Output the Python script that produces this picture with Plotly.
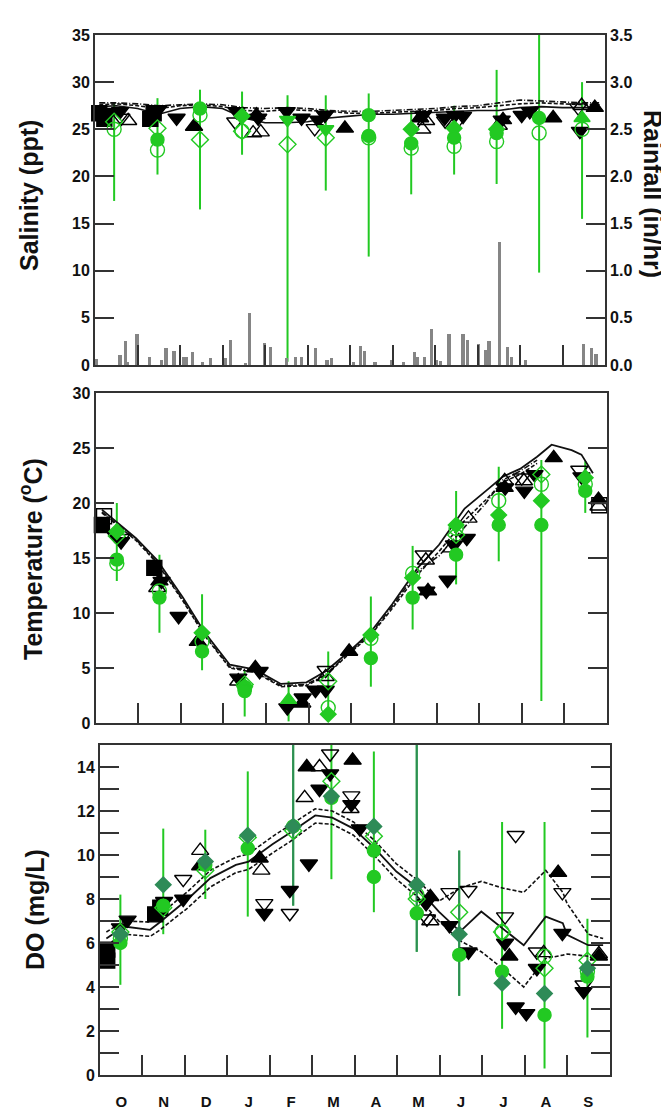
import plotly.graph_objects as go

W, H = 669, 1110

# ---------------- data ----------------
months = ['O', 'N', 'D', 'J', 'F', 'M', 'A', 'M', 'J', 'J', 'A', 'S']
month_centers = [0.5 + i for i in range(12)]
month_bounds = list(range(1, 12))

# Rainfall (in/hr), x in months since 1 Oct
rain_x = [0.03, 0.59, 0.71, 0.76, 0.99, 1.28, 1.56, 1.67, 1.86, 2.08, 2.15, 2.29, 2.52,
          2.71, 3.07, 3.18, 3.54, 3.63, 3.98, 4.13, 4.50, 4.71, 4.85, 5.18, 5.46, 5.56,
          6.08, 6.24, 6.34, 6.59, 6.97, 7.25, 7.51, 7.58, 7.75, 7.91, 8.03, 8.12, 8.33,
          8.66, 8.76, 9.02, 9.18, 9.27, 9.51, 9.70, 9.80, 10.12, 11.50, 11.69, 11.79]
rain_val = [0.06, 0.11, 0.25, 0.03, 0.33, 0.09, 0.05, 0.18, 0.15, 0.08, 0.09, 0.14, 0.03,
            0.07, 0.07, 0.26, 0.02, 0.55, 0.23, 0.19, 0.07, 0.085, 0.085, 0.18, 0.05, 0.07,
            0.03, 0.20, 0.15, 0.03, 0.05, 0.03, 0.14, 0.085, 0.085, 0.38, 0.05, 0.04, 0.33,
            0.33, 0.27, 0.22, 0.16, 0.25, 1.30, 0.19, 0.085, 0.05, 0.22, 0.18, 0.12]

# Salinity (ppt)
sal_lx = [0.1, 0.5, 1.0, 1.5, 2.0, 2.5, 3.0, 3.5, 4.0, 4.5, 5.0, 5.5, 6.0, 6.5, 7.0, 7.5,
          8.0, 8.5, 9.0, 9.5, 10.0, 10.5, 11.0, 11.5, 11.9]
sal_solid = [27.4, 27.5, 27.2, 26.6, 27.2, 27.4, 27.2, 26.2, 25.7, 25.7, 25.8, 26.2, 26.4,
             26.6, 26.6, 26.7, 26.8, 26.9, 27.0, 27.0, 27.3, 27.4, 27.3, 27.3, 27.3]
sal_dash = [27.6, 27.7, 27.5, 27.2, 27.5, 27.6, 27.4, 27.0, 26.9, 27.1, 27.0, 26.9, 26.7,
            26.7, 26.8, 26.9, 27.0, 27.2, 27.3, 27.5, 27.7, 27.8, 27.7, 27.6, 27.6]
sal_dashdot = [27.8, 27.8, 27.7, 27.5, 27.6, 27.7, 27.6, 27.3, 27.2, 27.3, 27.2, 27.0, 26.9,
               26.9, 27.0, 27.1, 27.2, 27.4, 27.5, 27.8, 28.1, 28.0, 27.9, 27.8, 27.8]
sal_sq_x = [0.1, 0.22, 1.3, 1.38]
sal_sq_y = [26.7, 26.1, 26.1, 26.7]
sal_fd_x = [0.35, 0.59, 1.49, 1.92, 3.33, 3.84, 4.51, 4.86, 5.25, 5.41, 7.72, 8.23, 8.47,
            8.66, 9.57, 10.04, 10.23, 11.41]
sal_fd_y = [26.8, 26.9, 27.1, 26.2, 26.9, 26.2, 26.9, 26.2, 26.0, 26.5, 26.5, 26.2, 26.5,
            26.4, 26.0, 26.5, 26.9, 24.8]
sal_fu_x = [2.33, 3.80, 5.88, 7.65, 9.60, 10.78, 11.76]
sal_fu_y = [25.3, 26.5, 25.1, 26.2, 26.0, 26.2, 27.3]
sal_ou_x = [0.78, 3.72, 3.90, 7.70, 7.79, 9.50, 11.45]
sal_ou_y = [25.9, 24.6, 24.7, 25.0, 25.9, 25.4, 27.5]
sal_od_x = [0.62, 3.30, 5.17, 8.24, 8.55, 11.37]
sal_od_y = [26.2, 25.8, 25.1, 25.9, 26.0, 27.3]
sal_gx = [0.45, 1.47, 2.47, 3.46, 4.53, 5.43, 6.44, 7.44, 8.45, 9.45, 10.45, 11.46]
sal_hi = [27.8, 28.3, 29.2, 29.0, 28.6, 28.6, 28.8, 26.9, 27.5, 31.3, 35.0, 30.0]
sal_lo = [17.4, 20.2, 16.5, 22.3, 0.35, 18.5, 11.5, 18.1, 20.2, 19.2, 9.8, 15.5]
sal_gc_x = [1.47, 2.47, 6.44, 6.44, 7.44, 8.45, 9.45, 10.45]
sal_gc_y = [23.9, 27.2, 26.5, 24.3, 23.5, 24.1, 24.6, 26.2]
sal_go_x = [0.45, 1.47, 2.47, 3.46, 6.44, 7.44, 8.45, 9.45, 10.45, 11.46]
sal_go_y = [25.0, 22.8, 26.5, 24.8, 24.1, 23.0, 23.2, 23.7, 24.6, 25.0]
sal_gdo_x = [0.45, 1.47, 2.47, 3.46, 4.53, 5.43]
sal_gdo_y = [25.8, 25.1, 23.9, 24.8, 23.4, 24.1]
sal_gd_x = [3.46, 7.44, 8.45, 9.45]
sal_gd_y = [26.4, 25.0, 25.1, 25.0]
sal_gtd_x = [4.53, 5.43]
sal_gtd_y = [26.0, 25.0]
sal_gtu_x = [11.46]
sal_gtu_y = [26.2]

# Temperature (oC)
temp_lx = [0.15, 0.95, 1.45, 2.05, 2.55, 3.15, 3.75, 4.35, 4.95, 5.4, 5.95, 6.46, 6.96,
           7.56, 8.06, 8.66, 9.16, 9.56, 9.96, 10.36, 10.7, 11.17, 11.4, 11.67]
temp_solid = [19.4, 16.8, 14.8, 11.4, 8.3, 5.3, 4.85, 3.55, 3.7, 4.7, 6.5, 8.3, 10.8,
              14.1, 16.2, 19.5, 21.1, 22.4, 23.1, 24.2, 25.3, 24.8, 24.4, 22.7]
temp_dash = [19.1, 16.6, 14.5, 11.1, 8.0, 5.0, 4.6, 3.3, 3.4, 4.3, 6.3, 8.0, 10.4, 13.5,
             15.6, 18.4, 20.3, 21.9, 22.6, 23.6]
temp_dashdot = [19.2, 16.7, 14.6, 11.2, 8.1, 5.1, 4.7, 3.4, 3.5, 4.4, 6.4, 8.1, 10.6, 13.8,
                15.2, 17.8, 20.0, 22.1, 22.9, 23.9]
t_sq_x = [0.15, 1.38]
t_sq_y = [18.0, 14.1]
t_osq_x = [0.2, 11.82]
t_osq_y = [18.8, 19.8]
t_fd_x = [0.45, 0.60, 1.55, 1.95, 3.35, 3.85, 4.50, 4.86, 5.16, 5.40, 7.76, 8.26, 8.41,
          8.71, 9.61, 10.06, 10.30, 11.40]
t_fd_y = [17.1, 16.5, 12.9, 9.7, 4.1, 4.7, 1.4, 2.3, 3.0, 3.0, 12.0, 13.0, 16.2, 16.8,
          21.4, 21.1, 22.6, 22.4]
t_fu_x = [1.50, 2.40, 3.75, 4.85, 5.95, 7.80, 9.60, 10.75, 11.80]
t_fu_y = [12.9, 7.4, 5.0, 1.8, 6.5, 12.0, 21.4, 24.1, 20.3]
t_ou_x = [1.45, 3.35, 5.40, 7.75, 8.35, 8.75, 9.60, 10.05, 11.80]
t_ou_y = [12.3, 3.8, 4.2, 14.8, 15.9, 18.6, 22.0, 22.0, 19.7]
t_od_x = [0.60, 5.40, 7.70, 10.00, 11.35]
t_od_y = [16.8, 4.8, 15.3, 22.3, 23.0]
temp_gx = [0.50, 1.50, 2.50, 3.50, 4.53, 5.46, 6.46, 7.44, 8.46, 9.46, 10.46, 11.49]
temp_hi = [20.0, 15.3, 11.7, 4.8, 3.8, 6.5, 11.5, 16.1, 21.1, 23.3, 23.9, 23.8]
temp_lo = [12.9, 8.2, 4.8, 0.6, 0.15, 0.15, 3.3, 8.5, 12.6, 14.7, 2.0, 19.1]
t_gc_x = [0.50, 1.50, 2.50, 3.50, 6.46, 7.44, 8.46, 9.46, 10.46, 11.49]
t_gc_y = [14.85, 11.4, 6.5, 2.9, 5.9, 11.4, 15.3, 18.0, 18.0, 21.1]
t_go_x = [0.50, 1.50, 2.50, 3.50, 5.46, 6.46, 7.44, 8.46, 9.46, 10.46, 11.49]
t_go_y = [14.5, 12.0, 7.4, 3.2, 1.4, 7.7, 13.6, 17.7, 20.2, 21.7, 21.7]
t_gd_x = [0.50, 2.50, 3.50, 5.46, 6.46, 7.44, 8.46, 9.46, 10.46, 11.49]
t_gd_y = [17.4, 8.2, 3.3, 0.8, 8.0, 13.2, 18.0, 18.9, 20.2, 22.3]
t_gdo_x = [0.50, 3.50, 5.46, 8.46, 10.46]
t_gdo_y = [17.0, 3.5, 3.8, 17.1, 22.6]
t_gtu_x = [4.53]
t_gtu_y = [2.1]

# Dissolved oxygen (mg/L)
do_lx = [0.15, 0.57, 1.18, 1.38, 2.07, 2.6, 3.2, 3.5, 4.07, 4.47, 5.07, 5.47, 5.97, 6.47,
         6.98, 7.48, 7.98, 8.48, 8.98, 9.48, 9.98, 10.5, 10.9, 11.0, 11.5, 11.85]
do_solid = [6.2, 6.75, 6.6, 6.9, 8.0, 8.95, 9.55, 9.7, 10.5, 11.0, 11.8, 11.7, 11.2, 10.3,
            9.25, 8.5, 7.43, 6.52, 7.43, 6.67, 5.9, 7.2, 6.9, 6.37, 5.9, 5.9]
do_upper = [6.5, 7.0, 6.95, 7.25, 8.35, 9.3, 9.9, 10.05, 10.85, 11.35, 12.1, 12.0, 11.5,
            10.65, 9.6, 8.85, 7.9, 8.5, 8.8, 8.5, 8.3, 9.3, 8.3, 7.8, 6.4, 6.2]
do_lower = [5.9, 6.4, 6.3, 6.55, 7.6, 8.55, 9.2, 9.35, 10.1, 10.6, 11.45, 11.4, 10.9, 9.95,
            8.9, 8.1, 7.0, 6.1, 5.6, 4.85, 4.0, 5.3, 5.45, 5.5, 5.4, 5.3]
do_sq_x = [0.17, 0.17, 1.30, 1.42]
do_sq_y = [5.2, 5.7, 7.3, 7.6]
do_fd_x = [0.47, 0.65, 1.51, 1.96, 3.87, 4.47, 4.92, 5.17, 5.42, 5.92, 6.12, 7.68, 8.23,
           8.68, 9.54, 9.79, 10.04, 10.29, 10.89, 11.39]
do_fd_y = [6.7, 7.05, 7.9, 8.0, 7.35, 8.4, 9.6, 13.0, 13.7, 12.3, 11.2, 7.8, 6.8, 5.6, 6.0,
           3.1, 2.8, 4.85, 6.45, 3.8]
do_fu_x = [2.36, 3.76, 4.87, 5.95, 7.78, 9.64, 10.79, 11.75]
do_fu_y = [9.5, 9.85, 14.0, 14.3, 8.1, 5.4, 9.2, 5.4]
do_ou_x = [2.36, 3.80, 4.82, 5.17, 5.90, 7.78, 10.45, 11.75]
do_ou_y = [10.2, 9.3, 12.6, 14.0, 12.1, 7.0, 5.55, 5.5]
do_od_x = [1.96, 3.87, 4.47, 5.42, 5.92, 7.70, 8.23, 8.68, 9.54, 9.79, 10.29, 10.89, 11.39]
do_od_y = [8.9, 7.8, 7.35, 14.6, 12.7, 7.1, 8.3, 8.4, 7.2, 10.9, 5.6, 8.3, 4.1]
do_gx = [0.48, 1.49, 2.48, 3.48, 4.55, 5.45, 6.45, 7.46, 8.46, 9.47, 10.47, 11.48]
do_hi = [8.2, 11.2, 11.15, 13.8, 15.0, 15.0, 14.7, 15.0, 10.2, 11.5, 11.5, 7.1]
do_lo = [4.1, 6.4, 8.0, 7.2, 7.7, 8.9, 7.4, 5.6, 3.6, 2.1, 0.3, 1.7]
do_dk_x = [4.55, 7.46, 8.46]
do_dk_hi = [15.0, 15.0, 10.2]
do_dk_lo = [7.7, 5.6, 3.6]
do_gc_x = [0.48, 1.49, 2.48, 3.48, 4.55, 5.45, 6.45, 6.45, 7.46, 8.46, 9.47, 10.47, 11.48]
do_gc_y = [6.0, 7.7, 9.55, 10.3, 11.3, 12.6, 10.2, 9.0, 7.35, 5.46, 4.7, 2.73, 4.47]
do_dd_x = [0.48, 1.49, 2.48, 3.48, 4.55, 5.45, 6.45, 7.46, 8.46, 9.47, 10.47, 11.48]
do_dd_y = [6.4, 8.65, 9.7, 10.9, 11.3, 12.67, 11.3, 8.65, 6.4, 4.17, 3.7, 4.85]
do_gdo_x = [0.48, 1.49, 2.48, 3.48, 4.55, 5.45, 6.45, 7.46, 8.46, 9.47, 10.47, 11.48]
do_gdo_y = [6.5, 7.6, 9.3, 10.8, 11.1, 13.35, 10.85, 8.0, 7.4, 6.5, 4.85, 5.2]
do_go_x = [0.48, 7.46, 9.47, 10.47, 11.48]
do_go_y = [6.2, 8.2, 6.5, 5.4, 4.7]

# ---------------- style ----------------
GREEN = '#22c922'
DKGREEN = '#2e8b57'
BLACK = '#000000'
LINEC = '#111111'
AXC = '#333333'
FONT = 'Liberation Sans, Arial, sans-serif'
MS = 15

fig = go.Figure()


def ranges(x, lo, hi, color, xa, ya, width=2):
    mid = [(a + b) / 2 for a, b in zip(lo, hi)]
    fig.add_trace(go.Scatter(
        x=x, y=mid, mode='markers', xaxis=xa, yaxis=ya,
        marker=dict(size=1, color='rgba(0,0,0,0)'),
        error_y=dict(type='data', symmetric=False,
                     array=[h - m for h, m in zip(hi, mid)],
                     arrayminus=[m - l for m, l in zip(mid, lo)],
                     color=color, thickness=width, width=0),
        showlegend=False, hoverinfo='skip'))


def line(x, y, dash, xa, ya, width=1.6):
    fig.add_trace(go.Scatter(x=x, y=y, mode='lines', xaxis=xa, yaxis=ya,
                             line=dict(color=LINEC, width=width, dash=dash),
                             showlegend=False, hoverinfo='skip'))


def pts(x, y, symbol, color, size, xa, ya, lw=1.4):
    fig.add_trace(go.Scatter(x=x, y=y, mode='markers', xaxis=xa, yaxis=ya,
                             marker=dict(symbol=symbol, color=color, size=size,
                                         line=dict(color=color, width=lw)),
                             showlegend=False, cliponaxis=False))


DASH = '4px,2px'
DASHDOT = '6px,2px,1px,2px'

# ---- panel 1: salinity + rainfall ----
fig.add_trace(go.Bar(x=rain_x, y=rain_val, width=0.075, xaxis='x', yaxis='y2',
                     marker=dict(color='#858585', line=dict(width=0)), showlegend=False))
ranges(sal_gx, sal_lo, sal_hi, GREEN, 'x', 'y')
line(sal_lx, sal_solid, 'solid', 'x', 'y')
line(sal_lx, sal_dash, DASH, 'x', 'y')
line(sal_lx, sal_dashdot, DASHDOT, 'x', 'y')
pts(sal_ou_x, sal_ou_y, 'triangle-up-open', BLACK, MS, 'x', 'y')
pts(sal_od_x, sal_od_y, 'triangle-down-open', BLACK, MS, 'x', 'y')
pts(sal_sq_x, sal_sq_y, 'square', BLACK, MS, 'x', 'y')
pts(sal_fd_x, sal_fd_y, 'triangle-down', BLACK, MS, 'x', 'y')
pts(sal_fu_x, sal_fu_y, 'triangle-up', BLACK, MS, 'x', 'y')
pts(sal_go_x, sal_go_y, 'circle-open', GREEN, 14, 'x', 'y')
pts(sal_gdo_x, sal_gdo_y, 'diamond-open', GREEN, 13, 'x', 'y')
pts(sal_gd_x, sal_gd_y, 'diamond', GREEN, 12, 'x', 'y')
pts(sal_gtd_x, sal_gtd_y, 'triangle-down', GREEN, 14, 'x', 'y')
pts(sal_gtu_x, sal_gtu_y, 'triangle-up', GREEN, 14, 'x', 'y')
pts(sal_gc_x, sal_gc_y, 'circle', GREEN, 13, 'x', 'y')

# ---- panel 2: temperature ----
ranges(temp_gx, temp_lo, temp_hi, GREEN, 'x2', 'y3')
line(temp_lx[:len(temp_dash)], temp_dash, DASH, 'x2', 'y3')
line(temp_lx[:len(temp_dashdot)], temp_dashdot, DASHDOT, 'x2', 'y3')
line(temp_lx, temp_solid, 'solid', 'x2', 'y3', width=1.8)
pts(t_ou_x, t_ou_y, 'triangle-up-open', BLACK, MS, 'x2', 'y3')
pts(t_od_x, t_od_y, 'triangle-down-open', BLACK, MS, 'x2', 'y3')
pts(t_osq_x, t_osq_y, 'square-open', BLACK, MS, 'x2', 'y3')
pts(t_sq_x, t_sq_y, 'square', BLACK, MS, 'x2', 'y3')
pts(t_fd_x, t_fd_y, 'triangle-down', BLACK, MS, 'x2', 'y3')
pts(t_fu_x, t_fu_y, 'triangle-up', BLACK, MS, 'x2', 'y3')
pts(t_go_x, t_go_y, 'circle-open', GREEN, 14, 'x2', 'y3')
pts(t_gdo_x, t_gdo_y, 'diamond-open', GREEN, 13, 'x2', 'y3')
pts(t_gd_x, t_gd_y, 'diamond', GREEN, 12, 'x2', 'y3')
pts(t_gtu_x, t_gtu_y, 'triangle-up', GREEN, 14, 'x2', 'y3')
pts(t_gc_x, t_gc_y, 'circle', GREEN, 13, 'x2', 'y3')

# ---- panel 3: dissolved oxygen ----
ranges(do_gx, do_lo, do_hi, GREEN, 'x3', 'y4')
ranges(do_dk_x, do_dk_lo, do_dk_hi, DKGREEN, 'x3', 'y4')
line(do_lx, do_upper, DASH, 'x3', 'y4')
line(do_lx, do_lower, DASH, 'x3', 'y4')
line(do_lx, do_solid, 'solid', 'x3', 'y4', width=1.8)
pts(do_ou_x, do_ou_y, 'triangle-up-open', BLACK, MS, 'x3', 'y4')
pts(do_od_x, do_od_y, 'triangle-down-open', BLACK, MS, 'x3', 'y4')
pts(do_sq_x, do_sq_y, 'square', BLACK, MS, 'x3', 'y4')
pts(do_fd_x, do_fd_y, 'triangle-down', BLACK, MS, 'x3', 'y4')
pts(do_fu_x, do_fu_y, 'triangle-up', BLACK, MS, 'x3', 'y4')
pts(do_go_x, do_go_y, 'circle-open', GREEN, 14, 'x3', 'y4')
pts(do_gdo_x, do_gdo_y, 'diamond-open', GREEN, 13, 'x3', 'y4')
pts(do_gc_x, do_gc_y, 'circle', GREEN, 13, 'x3', 'y4')
pts(do_dd_x, do_dd_y, 'diamond', DKGREEN, 12, 'x3', 'y4')

# ---------------- axes ----------------
tickfont = dict(family=FONT, size=16, color='#111111', weight='bold')
base = dict(showgrid=False, zeroline=False, showline=True, linecolor=AXC, linewidth=1.8,
            tickcolor=AXC, tickwidth=1.8, ticks='inside', ticklen=19, tickfont=tickfont,
            automargin=False)


def xdom(l, r):
    return [l / W, r / W]


def ydom(t, b):
    return [1 - b / H, 1 - t / H]


fig.update_layout(
    width=W, height=H, margin=dict(l=0, r=0, t=0, b=0),
    paper_bgcolor='white', plot_bgcolor='white', bargap=0,
    xaxis=dict(base, domain=xdom(87, 597), anchor='y', range=[0, 12], tickvals=month_bounds,
               showticklabels=False, mirror=True, ticklen=20),
    yaxis=dict(base, domain=ydom(27, 357), anchor='x', range=[0, 35],
               tickvals=list(range(0, 36, 5)), mirror=False),
    yaxis2=dict(base, overlaying='y', side='right', anchor='x', range=[0, 3.5],
                tickvals=[i * 0.5 for i in range(8)],
                ticktext=['%.1f' % (i * 0.5) for i in range(8)]),
    xaxis2=dict(base, domain=xdom(87.5, 599), anchor='y3', range=[0, 12], tickvals=month_bounds,
                showticklabels=False, mirror=True, ticklen=20),
    yaxis3=dict(base, domain=ydom(385, 715), anchor='x2', range=[0, 30],
                tickvals=list(range(0, 31, 5)), mirror='ticks'),
    xaxis3=dict(base, domain=xdom(92, 601.5), anchor='y4', range=[0, 12],
                tickvals=month_centers, ticktext=months, ticks='outside', ticklen=12,
                tickcolor='rgba(0,0,0,0)', mirror=True,
                tickfont=dict(family=FONT, size=15, color='#111111', weight='bold'),
                minor=dict(tickmode='array', tickvals=month_bounds, ticks='inside', ticklen=20,
                           tickcolor=AXC, tickwidth=1.8, showgrid=False)),
    yaxis4=dict(base, domain=ydom(737, 1067), anchor='x3', range=[0, 15],
                tickvals=list(range(0, 15)),
                ticktext=[str(v) if v % 2 == 0 else ' ' for v in range(0, 15)],
                mirror='ticks'),
)

titlefont = dict(family=FONT, size=25, color='#111111', weight='bold')


def title(text, xpix, ypix, angle):
    fig.add_annotation(text=text, x=xpix / W, y=1 - ypix / H, xref='paper', yref='paper',
                       xanchor='center', yanchor='middle', textangle=angle,
                       showarrow=False, font=titlefont)


title('Salinity (ppt)', 21, 188, -90)
title('Rainfall (in/hr)', 645, 186, 90)
title('Temperature (<sup>o</sup>C)', 23, 551, -90)
title('DO (mg/L)', 27, 902, -90)

fig.write_html('out.html')
